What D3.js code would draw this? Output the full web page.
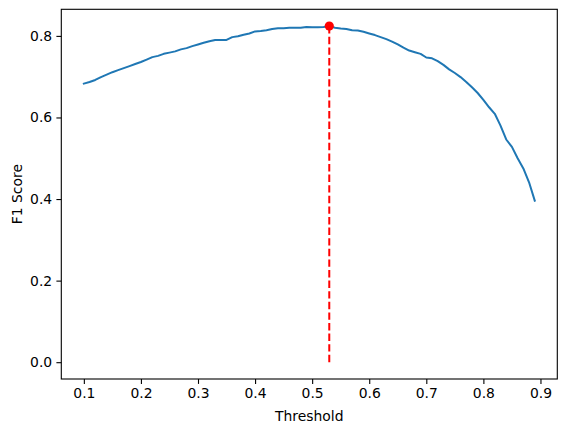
<!DOCTYPE html>
<html>
<head>
<meta charset="utf-8">
<script src="https://cdn.jsdelivr.net/npm/d3@7"></script>
<style>
  body { margin: 0; background: #fff; }
  svg text { font-family: "DejaVu Sans", sans-serif; }
</style>
</head>
<body>
<div id="chart"></div>
<script>
// thresholds 0.10 .. 0.89 and the F1 score
const thresholds = [0.10, 0.11, 0.12, 0.13, 0.14, 0.15, 0.16, 0.17, 0.18, 0.19,
  0.20, 0.21, 0.22, 0.23, 0.24, 0.25, 0.26, 0.27, 0.28, 0.29,
  0.30, 0.31, 0.32, 0.33, 0.34, 0.35, 0.36, 0.37, 0.38, 0.39,
  0.40, 0.41, 0.42, 0.43, 0.44, 0.45, 0.46, 0.47, 0.48, 0.49,
  0.50, 0.51, 0.52, 0.53, 0.54, 0.55, 0.56, 0.57, 0.58, 0.59,
  0.60, 0.61, 0.62, 0.63, 0.64, 0.65, 0.66, 0.67, 0.68, 0.69,
  0.70, 0.71, 0.72, 0.73, 0.74, 0.75, 0.76, 0.77, 0.78, 0.79,
  0.80, 0.81, 0.82, 0.83, 0.84, 0.85, 0.86, 0.87, 0.88, 0.89];
const f1Scores = [0.683, 0.687, 0.692, 0.699, 0.705, 0.711, 0.716, 0.721, 0.726, 0.731,
  0.736, 0.742, 0.748, 0.751, 0.756, 0.759, 0.762, 0.767, 0.770, 0.775,
  0.779, 0.783, 0.787, 0.790, 0.790, 0.790, 0.797, 0.799, 0.803, 0.806,
  0.811, 0.812, 0.814, 0.817, 0.819, 0.819, 0.820, 0.820, 0.820, 0.822,
  0.821, 0.821, 0.822, 0.824, 0.820, 0.818, 0.817, 0.814, 0.813, 0.810,
  0.806, 0.802, 0.797, 0.792, 0.786, 0.779, 0.771, 0.764, 0.760, 0.756,
  0.747, 0.745, 0.738, 0.729, 0.718, 0.709, 0.699, 0.687, 0.674, 0.660,
  0.643, 0.625, 0.609, 0.580, 0.546, 0.528, 0.500, 0.475, 0.441, 0.396];
const bestThreshold = 0.53;
const bestScore = 0.824;
const xTicks = [0.1, 0.2, 0.3, 0.4, 0.5, 0.6, 0.7, 0.8, 0.9];
const yTicks = [0.0, 0.2, 0.4, 0.6, 0.8];

//figure and axes box
const fullWidth = 567, fullHeight = 432;
const margin = {top: 9.3, right: 9.7, bottom: 53, left: 61.3};
const width = fullWidth - margin.left - margin.right;
const height = fullHeight - margin.top - margin.bottom;

const svg = d3.select("#chart")
    .append("svg")
    .attr("width", fullWidth)
    .attr("height", fullHeight)
    .append("g")
    .attr("transform", "translate(" + margin.left + "," + margin.top + ")");

// matplotlib-like 5% margins around the data
const xSpan = 0.89 - 0.10;
const x = d3.scaleLinear()
    .domain([0.10 - 0.05 * xSpan, 0.89 + 0.05 * xSpan])
    .range([0, width]);

const y = d3.scaleLinear()
    .domain([0 - 0.05 * bestScore, bestScore + 0.05 * bestScore])
    .range([height, 0]);

const data = thresholds.map((t, i) => ({t: t, v: f1Scores[i]}));

// the F1 curve
svg.append("path")
    .datum(data)
    .attr("fill", "none")
    .attr("stroke", "#1f77b4")
    .attr("stroke-width", 2)
    .attr("stroke-linejoin", "round")
    .attr("stroke-linecap", "square")
    .attr("d", d3.line().x(d => x(d.t)).y(d => y(d.v)));

// dashed line down from the best threshold
svg.append("line")
    .attr("x1", x(bestThreshold))
    .attr("x2", x(bestThreshold))
    .attr("y1", y(0))
    .attr("y2", y(bestScore))
    .attr("stroke", "red")
    .attr("stroke-width", 2)
    .attr("stroke-dasharray", "7.4,3.2");

svg.append("circle")
    .attr("cx", x(bestThreshold))
    .attr("cy", y(bestScore))
    .attr("r", 4.6)
    .attr("fill", "red");

// axes
const xAxisG = svg.append("g")
    .attr("transform", "translate(0," + height + ")")
    .call(d3.axisBottom(x).tickValues(xTicks).tickFormat(d3.format(".1f")).tickSizeOuter(0).tickSize(4.9).tickPadding(4.2));

const yAxisG = svg.append("g")
    .call(d3.axisLeft(y).tickValues(yTicks).tickFormat(d3.format(".1f")).tickSizeOuter(0).tickSize(4.9).tickPadding(4.2));

[xAxisG, yAxisG].forEach(g => {
    g.select(".domain").remove();
    g.selectAll(".tick line").attr("stroke", "#000").attr("stroke-width", 1.1);
    g.selectAll(".tick text")
        .attr("fill", "#000")
        .style("font-size", "13.9px")
        .style("font-family", "'DejaVu Sans', sans-serif");
});

// frame
svg.append("rect")
    .attr("x", 0)
    .attr("y", 0)
    .attr("width", width)
    .attr("height", height)
    .attr("fill", "none")
    .attr("stroke", "#000")
    .attr("stroke-width", 1.1);

// axis labels
svg.append("text")
    .attr("x", width / 2)
    .attr("y", height + 42)
    .style("text-anchor", "middle")
    .style("font-size", "13.9px")
    .text("Threshold");

svg.append("text")
    .attr("transform", "rotate(-90)")
    .attr("x", 0 - height / 2)
    .attr("y", 0 - margin.left + 22)
    .style("text-anchor", "middle")
    .style("font-size", "13.9px")
    .text("F1 Score");
</script>
</body>
</html>
